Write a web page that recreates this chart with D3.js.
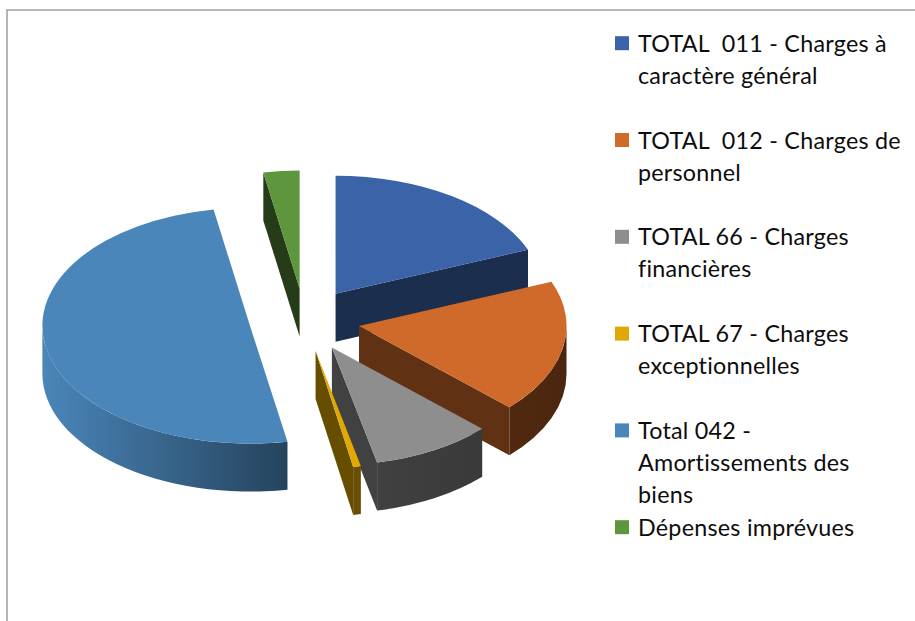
<!DOCTYPE html>
<html>
<head>
<meta charset="utf-8">
<script src="https://cdn.jsdelivr.net/npm/d3@7"></script>
<style>
    html, body { margin: 0; padding: 0; background: #fff; }
    svg { display: block; }
</style>
</head>
<body>
<div id="chart"></div>
<script>

const categories = [
    "TOTAL  011 - Charges à\ncaractère général",
    "TOTAL  012 - Charges de\npersonnel",
    "TOTAL 66 - Charges\nfinancières",
    "TOTAL 67 - Charges\nexceptionnelles",
    "Total 042 -\nAmortissements des\nbiens",
    "Dépenses imprévues"
]
const values = [18.9, 18.2, 9.4, 0.6, 50.1, 2.8] // share of the total, in %
const colors = ["#3a63a8", "#d06a2a", "#8e8e8e", "#e0a800", "#4a86ba", "#5e963e"]

const width = 915
const height = 621

// 3d pie geometry (projected ellipse)
const cx = 304.5, cy = 320
const rx = 207.5, ry = 118
const depth = 48
const explode = 55.5

const svg = d3.select("#chart").append("svg")
    .attr("width", width)
    .attr("height", height)
    .attr("viewBox", [0, 0, width, height])

// chart area frame (only top and left show)
svg.append("path")
    .attr("d", `M7,${height} L7,10 L${width},10`)
    .attr("fill", "none")
    .attr("stroke", "#a3a3a3")
    .attr("stroke-width", 1.6)

const color = d3.scaleOrdinal().domain(categories).range(colors)

const pie = d3.pie().sort(null).value(d => d.value)
const slices = pie(categories.map((c, i) => ({name: c, value: values[i]})))

// shade a colour toward black, f = 1 keeps it
const shade = (c, f) => d3.interpolateRgb("#000", c)(f)

// side lighting goes from the left of the pie to the right
const defs = svg.append("defs")
slices.forEach((s, i) => {
    const g = defs.append("linearGradient")
        .attr("id", "side" + i)
        .attr("gradientUnits", "userSpaceOnUse")
        .attr("x1", cx - rx - explode).attr("x2", cx + rx + explode)
        .attr("y1", 0).attr("y2", 0)
    g.append("stop").attr("offset", 0).attr("stop-color", shade(color(s.data.name), 1.0))
    g.append("stop").attr("offset", 0.47).attr("stop-color", shade(color(s.data.name), 0.5))
    g.append("stop").attr("offset", 1).attr("stop-color", shade(color(s.data.name), 0.36))
})

function vertex(s, h) {
    const mid = (s.startAngle + s.endAngle) / 2
    return [cx + explode * Math.sin(mid), cy - explode * (ry / rx) * Math.cos(mid) + h]
}

function point(s, a, h) {
    const v = vertex(s, h)
    return [v[0] + rx * Math.sin(a), v[1] - ry * Math.cos(a)]
}

function topPath(s) {
    const large = s.endAngle - s.startAngle > Math.PI ? 1 : 0
    return `M${vertex(s, 0)} L${point(s, s.startAngle, 0)}`
        + ` A${rx},${ry} 0 ${large} 1 ${point(s, s.endAngle, 0)} Z`
}

function outerPath(s) {
    const a0 = Math.max(s.startAngle, Math.PI / 2)
    const a1 = Math.min(s.endAngle, Math.PI * 1.5)
    if (a1 <= a0) return null
    const large = a1 - a0 > Math.PI ? 1 : 0
    return `M${point(s, a0, 0)} A${rx},${ry} 0 ${large} 1 ${point(s, a1, 0)}`
        + ` L${point(s, a1, depth)} A${rx},${ry} 0 ${large} 0 ${point(s, a0, depth)} Z`
}

function cutPath(s, a) {
    return `M${vertex(s, 0)} L${point(s, a, 0)} L${point(s, a, depth)} L${vertex(s, depth)} Z`
}

// paint back to front, the big slice goes behind the small front ones
const order = slices.slice().sort((a, b) => {
    const za = a.endAngle - a.startAngle > Math.PI ? 50 : 0
    const zb = b.endAngle - b.startAngle > Math.PI ? 50 : 0
    return (vertex(a, 0)[1] - za) - (vertex(b, 0)[1] - zb)
})

const pieG = svg.append("g")

order.forEach(s => {
    const i = slices.indexOf(s)
    const c = color(s.data.name)
    const g = pieG.append("g")

    if (Math.sin(s.startAngle) < -1e-6)
        g.append("path").attr("d", cutPath(s, s.startAngle)).attr("fill", shade(c, 0.4))
    if (Math.sin(s.endAngle) > 1e-6)
        g.append("path").attr("d", cutPath(s, s.endAngle)).attr("fill", shade(c, 0.46))

    const op = outerPath(s)
    if (op) g.append("path").attr("d", op).attr("fill", `url(#side${i})`)

    g.append("path").attr("d", topPath(s)).attr("fill", c)
})

// legend
const legendX = 615
const legendTop = 51.7
const entryStep = 96.8
const lineStep = 32.2

const legend = svg.append("g")
    .attr("font-family", "Lato, 'Noto Sans', sans-serif")
    .attr("font-size", 23.3)
    .attr("letter-spacing", 0.25)
    .attr("fill", "#0d0d0d")

const items = legend.selectAll("g")
    .data(categories)
    .join("g")
    .attr("transform", (d, i) => `translate(${legendX},${legendTop + i * entryStep})`)

items.append("rect")
    .attr("x", 0)
    .attr("y", -15.5)
    .attr("width", 14)
    .attr("height", 14)
    .attr("fill", d => color(d))

items.append("text")
    .style("white-space", "pre")
    .selectAll("tspan")
    .data(d => d.split("\n"))
    .join("tspan")
    .attr("x", 23)
    .attr("y", (d, j) => j * lineStep)
    .text(d => d)

</script>
</body>
</html>
